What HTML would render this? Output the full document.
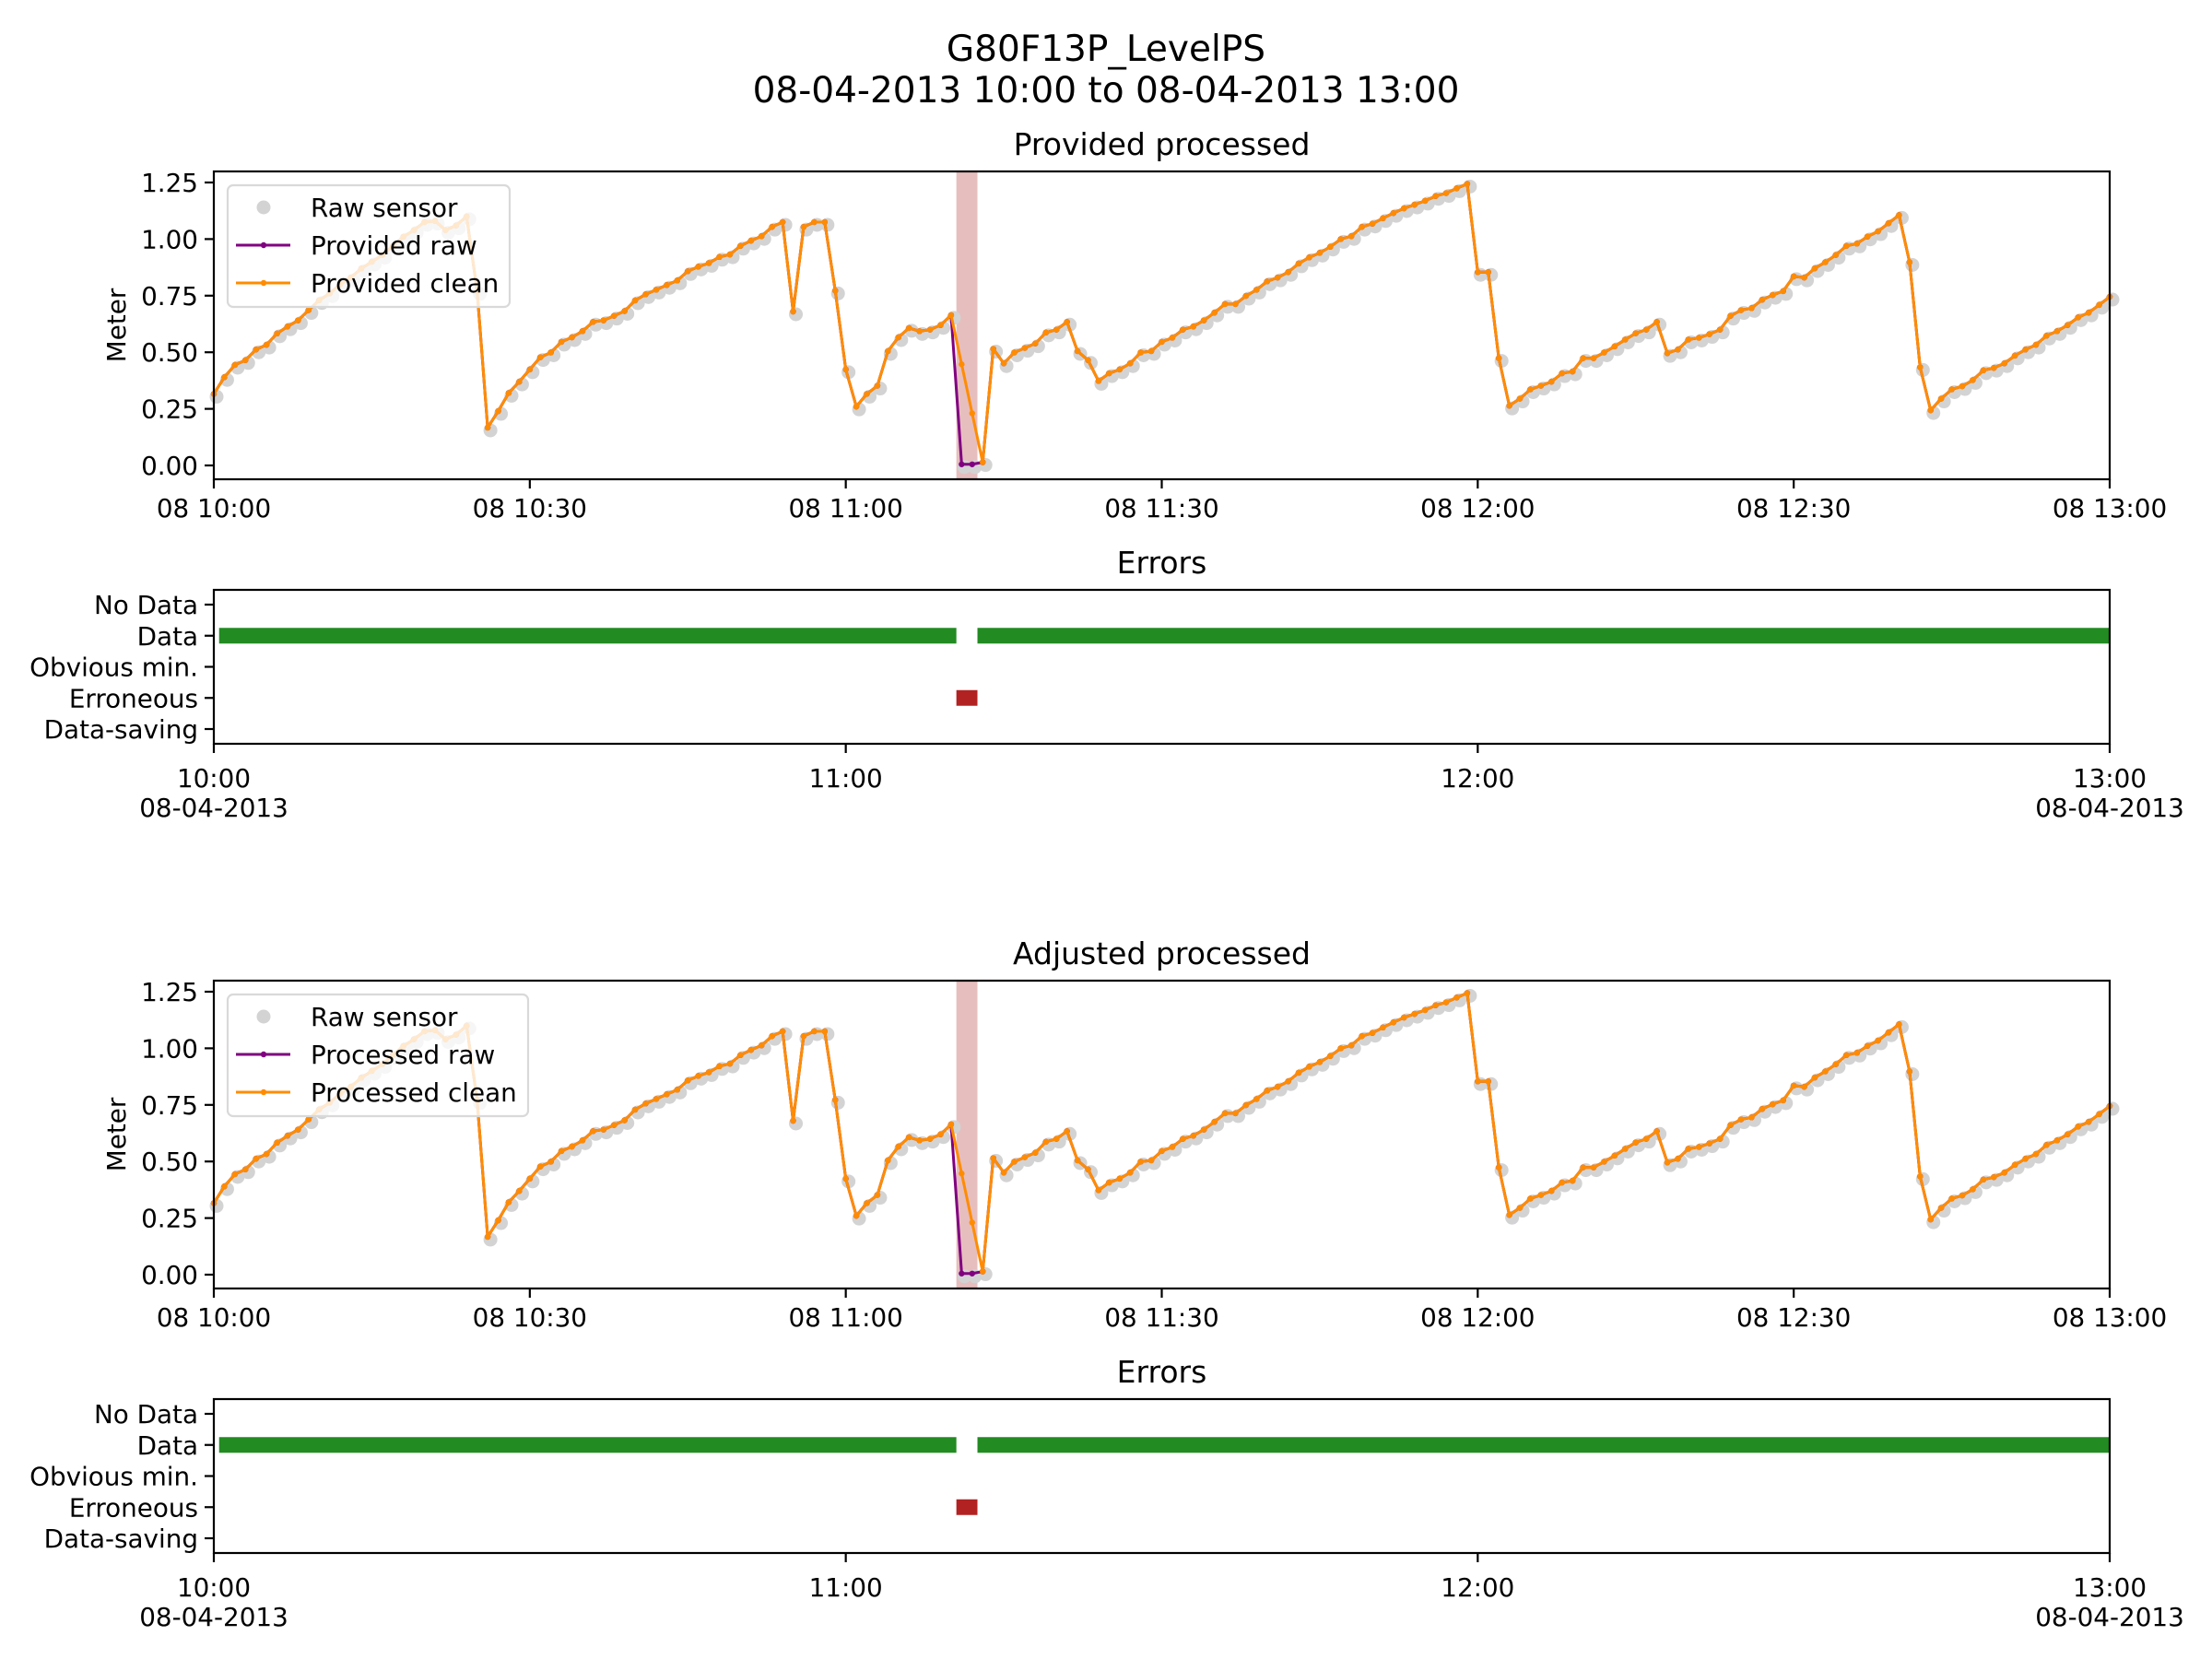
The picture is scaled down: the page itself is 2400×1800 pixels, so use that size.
<!DOCTYPE html>
<html><head><meta charset="utf-8">
<style>
html,body{margin:0;padding:0;background:#fff;}
svg{display:block;font-family:"DejaVu Sans","Liberation Sans",sans-serif;}
</style></head>
<body>
<svg id="fig" width="2400" height="1800" viewBox="0 0 2400 1800" xmlns="http://www.w3.org/2000/svg">
<rect x="0" y="0" width="2400" height="1800" fill="#fff"/>
<text x="1200" y="66" font-size="39" text-anchor="middle">G80F13P_LevelPS</text>
<text x="1200" y="111" font-size="39" text-anchor="middle">08-04-2013 10:00 to 08-04-2013 13:00</text>
<g id="root"></g>
</svg>
<script>
// ---- data (minutes after 10:00, one sample per minute) ----
const cleanValues = [
0.316,0.39,0.444,0.465,0.512,0.533,0.583,0.614,0.641,0.686,
0.73,0.76,0.80,0.83,0.87,0.90,0.93,0.97,1.01,1.04,
1.075,1.08,1.04,1.06,1.10,0.77,0.167,0.24,0.32,0.37,
0.424,0.478,0.499,0.546,0.566,0.593,0.634,0.641,0.661,0.682,
0.729,0.756,0.776,0.797,0.817,0.858,0.878,0.894,0.921,0.932,
0.970,0.993,1.013,1.054,1.075,0.68,1.054,1.075,1.075,0.772,
0.424,0.26,0.316,0.352,0.505,0.566,0.607,0.593,0.60,0.62,
0.664,0.447,0.23,0.014,0.515,0.451,0.499,0.519,0.539,0.587,
0.60,0.634,0.505,0.465,0.373,0.407,0.424,0.451,0.499,0.505,
0.546,0.564,0.60,0.614,0.641,0.675,0.713,0.713,0.749,0.776,
0.813,0.83,0.854,0.892,0.919,0.939,0.966,1.0,1.013,1.054,
1.068,1.092,1.115,1.136,1.152,1.169,1.19,1.203,1.224,1.244,
0.854,0.854,0.474,0.264,0.295,0.336,0.352,0.37,0.407,0.415,
0.474,0.474,0.499,0.526,0.556,0.584,0.60,0.634,0.496,0.512,
0.556,0.564,0.58,0.60,0.661,0.686,0.695,0.732,0.753,0.77,
0.835,0.83,0.871,0.898,0.93,0.97,0.98,1.011,1.034,1.07,
1.106,0.898,0.434,0.244,0.295,0.336,0.35,0.377,0.42,0.431,
0.451,0.485,0.512,0.533,0.573,0.593,0.62,0.654,0.675,0.709,0.745];
const rawValues = cleanValues.slice();
rawValues[71] = 0.005;
rawValues[72] = 0.005;
const sensorValues = rawValues.slice();
const yTicks = [0.00,0.25,0.50,0.75,1.00,1.25];
const yTickLabels = ["0.00","0.25","0.50","0.75","1.00","1.25"];
const xTicks = [0,30,60,90,120,150,180];
const xTickLabels = ["08 10:00","08 10:30","08 11:00","08 11:30","08 12:00","08 12:30","08 13:00"];
const errCategories = ["No Data","Data","Obvious min.","Erroneous","Data-saving"];
const errXTicks = [0,60,120,180];
const errXLabels = ["10:00","11:00","12:00","13:00"];
const errXDates = ["08-04-2013","","","08-04-2013"];
const dataSegments = [[0.5,70.5],[72.5,180]];
const erroneousSegments = [[70.5,72.5]];
const shadeSpan = [70.5,72.5];

// ---- layout ----
const NS = "http://www.w3.org/2000/svg";
const root = document.getElementById('root');
const AX_L = 232, AX_R = 2289;
function X(m){ return AX_L + m*(AX_R-AX_L)/180; }
function mk(tag, attrs, parent, text){
  const e = document.createElementNS(NS, tag);
  for (const k in attrs) e.setAttribute(k, attrs[k]);
  if (text !== undefined) e.textContent = text;
  (parent||root).appendChild(e);
  return e;
}

function linePanel(off, title, labels, legendW, key){
  const top = 186+off, bot = 520+off;
  const Y = v => (505+off) - v*(505-198)/1.25;
  const g = mk('g', {});
  
  
  const t = mk('text', {x:(AX_L+AX_R)/2, y:top-18, 'font-size':33, 'text-anchor':'middle'}, g, title);
  
  
  const sh = mk('rect', {x:X(shadeSpan[0]), y:top, width:X(shadeSpan[1])-X(shadeSpan[0]), height:bot-top, fill:'#e6bebe'}, g);
  
  
  const gs = mk('g', {fill:'#d3d3d3'}, g);
  
  
  sensorValues.forEach((v,i)=>{
    const c = mk('circle', {cx:X(i)+3, cy:Y(v)+3, r:7.5}, gs);
    
    
  });
  const pr = mk('polyline', {points: rawValues.map((v,i)=>X(i)+','+Y(v)).join(' '), fill:'none', stroke:'#800080', 'stroke-width':3, 'stroke-linejoin':'round'}, g);
  
  
  const gr = mk('g', {fill:'#800080'}, g);
  rawValues.forEach((v,i)=>{
    const c = mk('circle', {cx:X(i), cy:Y(v), r:3.2}, gr);
    
    
  });
  const pc = mk('polyline', {points: cleanValues.map((v,i)=>X(i)+','+Y(v)).join(' '), fill:'none', stroke:'#ff8c00', 'stroke-width':3, 'stroke-linejoin':'round'}, g);
  
  
  const gc = mk('g', {fill:'#ff8c00'}, g);
  cleanValues.forEach((v,i)=>{
    const c = mk('circle', {cx:X(i), cy:Y(v), r:3.2}, gc);
    
    
  });
  const fr = mk('rect', {x:AX_L, y:top, width:AX_R-AX_L, height:bot-top, fill:'none', stroke:'#000', 'stroke-width':2.2}, g);
  
  
  yTicks.forEach((v,i)=>{
    mk('line', {x1:AX_L-10, x2:AX_L, y1:Y(v), y2:Y(v), stroke:'#000', 'stroke-width':2.2}, g);
    const tl = mk('text', {x:AX_L-17, y:Y(v)+10, 'font-size':27.8, 'text-anchor':'end'}, g, yTickLabels[i]);
    
    
  });
  xTicks.forEach((m,i)=>{
    mk('line', {x1:X(m), x2:X(m), y1:bot, y2:bot+10, stroke:'#000', 'stroke-width':2.2}, g);
    const tl = mk('text', {x:X(m), y:bot+41, 'font-size':27.8, 'text-anchor':'middle'}, g, xTickLabels[i]);
    
    
  });
  const yl = mk('text', {x:0, y:0, 'font-size':27.8, 'text-anchor':'middle', transform:`translate(136,${(top+bot)/2}) rotate(-90)`}, g, 'Meter');
  
  
  const lg = mk('g', {}, g);
  
  
  mk('rect', {x:247, y:201+off, width:legendW, height:132, rx:6, fill:'#fff', 'fill-opacity':0.8, stroke:'#d9d9d9', 'stroke-width':2.2}, lg);
  const ey = [225,266,307];
  const e1 = mk('circle', {cx:286, cy:ey[0]+off, r:7.5, fill:'#d3d3d3'}, lg);
  
  
  mk('line', {x1:256, x2:315, y1:ey[1]+off, y2:ey[1]+off, stroke:'#800080', 'stroke-width':3}, lg);
  mk('circle', {cx:286, cy:ey[1]+off, r:3.2, fill:'#800080'}, lg);
  mk('line', {x1:256, x2:315, y1:ey[2]+off, y2:ey[2]+off, stroke:'#ff8c00', 'stroke-width':3}, lg);
  mk('circle', {cx:286, cy:ey[2]+off, r:3.2, fill:'#ff8c00'}, lg);
  labels.forEach((s,i)=>{
    const tl = mk('text', {x:337, y:ey[i]+off+10, 'font-size':27.8}, lg, s);
    
    
  });
}

function errPanel(off, key){
  const top = 640+off, bot = 807+off;
  const Y = k => (656+off) + k*33.75;
  const g = mk('g', {});
  
  
  const t = mk('text', {x:(AX_L+AX_R)/2, y:top-18, 'font-size':33, 'text-anchor':'middle'}, g, 'Errors');
  
  
  dataSegments.forEach(s=>{
    const r = mk('rect', {x:X(s[0]), y:Y(1)-8.5, width:X(s[1])-X(s[0]), height:17, fill:'#228b22'}, g);
    
    
  });
  erroneousSegments.forEach(s=>{
    const r = mk('rect', {x:X(s[0]), y:Y(3)-8.5, width:X(s[1])-X(s[0]), height:17, fill:'#b22222'}, g);
    
    
  });
  const fr = mk('rect', {x:AX_L, y:top, width:AX_R-AX_L, height:bot-top, fill:'none', stroke:'#000', 'stroke-width':2.2}, g);
  
  
  errCategories.forEach((c,k)=>{
    mk('line', {x1:AX_L-10, x2:AX_L, y1:Y(k), y2:Y(k), stroke:'#000', 'stroke-width':2.2}, g);
    const tl = mk('text', {x:AX_L-17, y:Y(k)+10, 'font-size':27.8, 'text-anchor':'end'}, g, c);
    
    
  });
  errXTicks.forEach((m,i)=>{
    mk('line', {x1:X(m), x2:X(m), y1:bot, y2:bot+10, stroke:'#000', 'stroke-width':2.2}, g);
    const tl = mk('text', {x:X(m), y:bot+47, 'font-size':27.8, 'text-anchor':'middle'}, g, errXLabels[i]);
    
    
    if (errXDates[i]) {
      const dl = mk('text', {x:X(m), y:bot+79, 'font-size':27.8, 'text-anchor':'middle'}, g, errXDates[i]);
      
      
    }
  });
}

linePanel(0, 'Provided processed', ['Raw sensor','Provided raw','Provided clean'], 306, 'provided');
errPanel(0, 'provided');
linePanel(878, 'Adjusted processed', ['Raw sensor','Processed raw','Processed clean'], 326, 'adjusted');
errPanel(878, 'adjusted');
</script>
</body></html>
